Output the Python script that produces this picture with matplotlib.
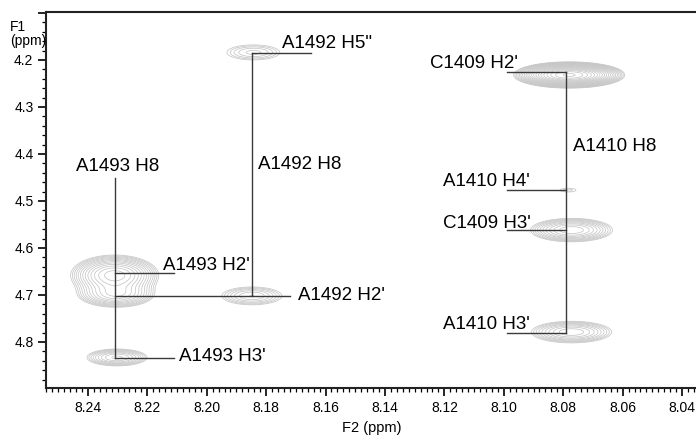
import numpy as np
import matplotlib
matplotlib.use("Agg")
import matplotlib.pyplot as plt
from matplotlib.ticker import MultipleLocator, FuncFormatter

plt.rcParams['font.family'] = ['Liberation Sans', 'DejaVu Sans']

# cross peaks (ppm): centre, half-width of outermost contour, relative height
peak_f2 = [8.2310, 8.2305, 8.2302, 8.1848, 8.1843, 8.0780, 8.0784, 8.0772, 8.0772]
peak_f1 = [4.658, 4.700, 4.833, 4.702, 4.184, 4.232, 4.477, 4.562, 4.779]
peak_wf2 = [0.0148, 0.0122, 0.0101, 0.0101, 0.0089, 0.0187, 0.0027, 0.0138, 0.0135]
peak_wf1 = [0.043, 0.026, 0.018, 0.019, 0.016, 0.028, 0.004, 0.025, 0.023]
peak_amp = [1.0, 0.55, 0.45, 0.3, 0.22, 4.0, 0.13, 0.6, 0.5]

# assignment walk lines (ppm)
vlines_f2 = [8.2310, 8.1848, 8.0789]
vlines_f1 = [(4.451, 4.834), (4.185, 4.702), (4.225, 4.780)]
hlines_f1 = [4.654, 4.702, 4.834, 4.185, 4.225, 4.477, 4.562, 4.780]
hlines_f2 = [(8.2310, 8.2110), (8.2310, 8.1720), (8.2310, 8.2110), (8.1848, 8.1650),
             (8.0990, 8.0789), (8.0990, 8.0789), (8.0990, 8.0789), (8.0990, 8.0789)]

labels = ["A1493 H8", "A1493 H2'", "A1493 H3'", "A1492 H5\"", "A1492 H8", "A1492 H2'",
          "C1409 H2'", "A1410 H8", "A1410 H4'", "C1409 H3'", "A1410 H3'"]
label_f2 = [8.2299, 8.2147, 8.2094, 8.1748, 8.1827, 8.1694,
            8.1249, 8.0766, 8.1206, 8.1206, 8.1206]
label_f1 = [4.426, 4.637, 4.831, 4.164, 4.423, 4.702,
            4.208, 4.384, 4.459, 4.547, 4.762]
label_ha = ['center', 'left', 'left', 'left', 'left', 'left',
            'left', 'left', 'left', 'left', 'left']

base_level = 0.1

fig = plt.figure(figsize=(6.96, 4.36), dpi=100)
ax = fig.add_axes([46 / 696, 1 - 388 / 436, 1 - 46 / 696, 376 / 436])

xx = np.linspace(8.030, 8.260, 1400)
yy = np.linspace(4.09, 4.91, 1000)
X, Y = np.meshgrid(xx, yy)
Z = np.zeros_like(X)
for cx, cy, wx, wy, a in zip(peak_f2, peak_f1, peak_wf2, peak_wf1, peak_amp):
    k = np.sqrt(2 * np.log(a / base_level))
    sx, sy = wx / k, wy / k
    Z += a * np.exp(-((X - cx) ** 2 / (2 * sx ** 2) + (Y - cy) ** 2 / (2 * sy ** 2)))

levels = base_level * 1.2 ** np.arange(0, 24)
ax.contour(X, Y, Z, levels=levels, colors='#c6c6c6', linewidths=0.55)

line_kw = dict(color='#3a3a3a', lw=1.0)
for x, (y0, y1) in zip(vlines_f2, vlines_f1):
    ax.plot([x, x], [y0, y1], **line_kw)
for y, (x0, x1) in zip(hlines_f1, hlines_f2):
    ax.plot([x0, x1], [y, y], **line_kw)

for t, x, y, ha in zip(labels, label_f2, label_f1, label_ha):
    ax.text(x, y, t, ha=ha, va='center', fontsize=13.5, color='black')

ax.set_xlim(8.2541, 8.0353)
ax.set_ylim(4.898, 4.098)

ax.xaxis.set_major_locator(MultipleLocator(0.02))
ax.xaxis.set_minor_locator(MultipleLocator(0.002))
ax.yaxis.set_major_locator(MultipleLocator(0.1))
ax.yaxis.set_minor_locator(MultipleLocator(0.02))
ax.xaxis.set_major_formatter(FuncFormatter(lambda v, p: f'{v:.2f}'))
ax.yaxis.set_major_formatter(FuncFormatter(lambda v, p: '' if v < 4.15 else f'{v:.1f}'))
ax.tick_params(which='major', direction='out', length=6, width=1.2, labelsize=10, pad=3)
ax.tick_params(which='minor', direction='out', length=3, width=0.9)

ax.spines['right'].set_visible(False)
for s in ['top', 'left', 'bottom']:
    ax.spines[s].set_linewidth(1.5)
    ax.spines[s].set_color('#222222')

fig.text(10 / 696, 1 - 20 / 436, "F1\n(ppm)", fontsize=10, ha='left', va='top', linespacing=1.0)
fig.text(372 / 696, 1 - 428 / 436, "F2 (ppm)", fontsize=10.5, ha='center', va='center')

fig.savefig('out.png', dpi=100, facecolor='white')
